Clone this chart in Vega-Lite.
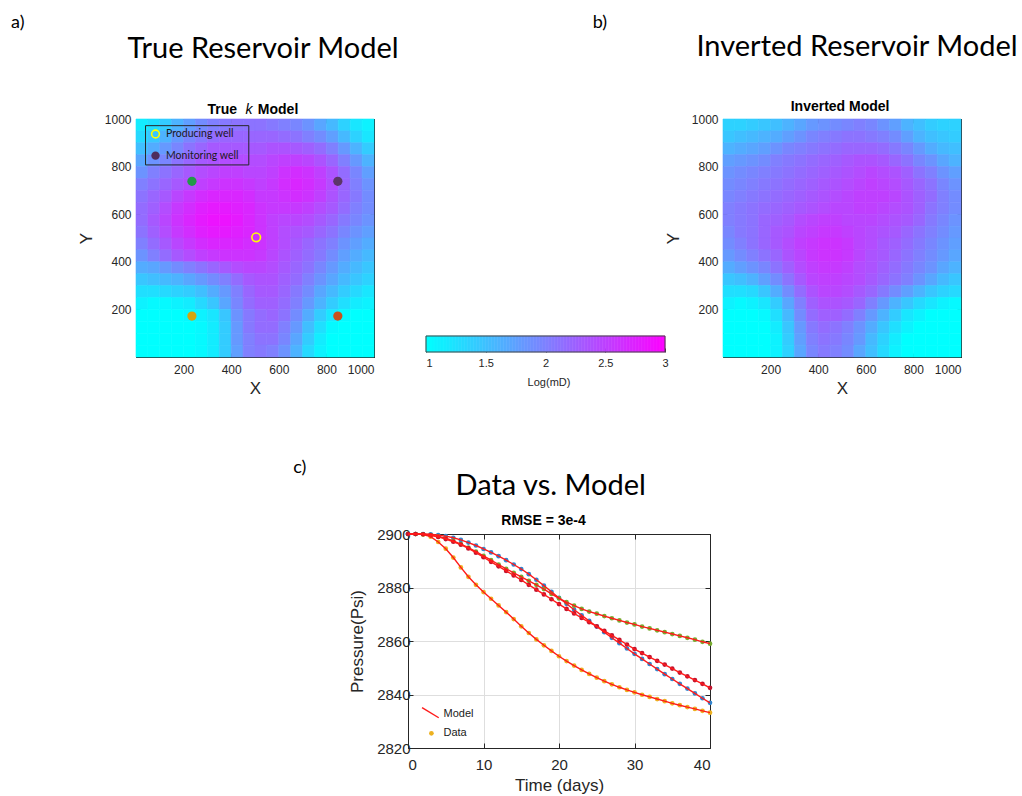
{
"$schema":"https://vega.github.io/schema/vega-lite/v6.json",
"background":"white",
"padding":{"left":10,"top":13,"right":0,"bottom":0},
"config":{"font":"Liberation Sans","view":{"stroke":"#262626","strokeWidth":1},
"axis":{"labelFont":"Liberation Sans","titleFont":"Liberation Sans","labelColor":"#262626","titleColor":"#262626","titleFontWeight":"normal","domainColor":"#262626","tickColor":"#262626","grid":false,"zindex":1,"tickSize":-4,"labelPadding":8,"format":"d"}},
"datasets":{
"truek":[
{"x":25,"y":975,"v":1.15},{"x":75,"y":975,"v":1.25},{"x":125,"y":975,"v":1.4},{"x":175,"y":975,"v":1.6},{"x":225,"y":975,"v":1.75},{"x":275,"y":975,"v":1.9},{"x":325,"y":975,"v":2.0},{"x":375,"y":975,"v":2.05},{"x":425,"y":975,"v":2.1},{"x":475,"y":975,"v":2.1},{"x":525,"y":975,"v":2.1},{"x":575,"y":975,"v":2.05},{"x":625,"y":975,"v":2.0},{"x":675,"y":975,"v":1.95},{"x":725,"y":975,"v":1.85},{"x":775,"y":975,"v":1.7},{"x":825,"y":975,"v":1.55},{"x":875,"y":975,"v":1.35},{"x":925,"y":975,"v":1.2},{"x":975,"y":975,"v":1.1},
{"x":25,"y":925,"v":1.3},{"x":75,"y":925,"v":1.45},{"x":125,"y":925,"v":1.6},{"x":175,"y":925,"v":1.8},{"x":225,"y":925,"v":1.95},{"x":275,"y":925,"v":2.05},{"x":325,"y":925,"v":2.15},{"x":375,"y":925,"v":2.2},{"x":425,"y":925,"v":2.2},{"x":475,"y":925,"v":2.2},{"x":525,"y":925,"v":2.2},{"x":575,"y":925,"v":2.2},{"x":625,"y":925,"v":2.15},{"x":675,"y":925,"v":2.1},{"x":725,"y":925,"v":2.0},{"x":775,"y":925,"v":1.9},{"x":825,"y":925,"v":1.75},{"x":875,"y":925,"v":1.55},{"x":925,"y":925,"v":1.35},{"x":975,"y":925,"v":1.2},
{"x":25,"y":875,"v":1.5},{"x":75,"y":875,"v":1.65},{"x":125,"y":875,"v":1.8},{"x":175,"y":875,"v":1.95},{"x":225,"y":875,"v":2.1},{"x":275,"y":875,"v":2.2},{"x":325,"y":875,"v":2.3},{"x":375,"y":875,"v":2.3},{"x":425,"y":875,"v":2.3},{"x":475,"y":875,"v":2.3},{"x":525,"y":875,"v":2.3},{"x":575,"y":875,"v":2.35},{"x":625,"y":875,"v":2.35},{"x":675,"y":875,"v":2.3},{"x":725,"y":875,"v":2.25},{"x":775,"y":875,"v":2.15},{"x":825,"y":875,"v":2.0},{"x":875,"y":875,"v":1.8},{"x":925,"y":875,"v":1.6},{"x":975,"y":875,"v":1.4},
{"x":25,"y":825,"v":1.7},{"x":75,"y":825,"v":1.85},{"x":125,"y":825,"v":1.95},{"x":175,"y":825,"v":2.1},{"x":225,"y":825,"v":2.2},{"x":275,"y":825,"v":2.3},{"x":325,"y":825,"v":2.35},{"x":375,"y":825,"v":2.4},{"x":425,"y":825,"v":2.4},{"x":475,"y":825,"v":2.4},{"x":525,"y":825,"v":2.4},{"x":575,"y":825,"v":2.45},{"x":625,"y":825,"v":2.5},{"x":675,"y":825,"v":2.5},{"x":725,"y":825,"v":2.45},{"x":775,"y":825,"v":2.35},{"x":825,"y":825,"v":2.2},{"x":875,"y":825,"v":2.0},{"x":925,"y":825,"v":1.8},{"x":975,"y":825,"v":1.6},
{"x":25,"y":775,"v":1.85},{"x":75,"y":775,"v":2.0},{"x":125,"y":775,"v":2.1},{"x":175,"y":775,"v":2.2},{"x":225,"y":775,"v":2.3},{"x":275,"y":775,"v":2.4},{"x":325,"y":775,"v":2.45},{"x":375,"y":775,"v":2.5},{"x":425,"y":775,"v":2.5},{"x":475,"y":775,"v":2.45},{"x":525,"y":775,"v":2.45},{"x":575,"y":775,"v":2.5},{"x":625,"y":775,"v":2.6},{"x":675,"y":775,"v":2.65},{"x":725,"y":775,"v":2.6},{"x":775,"y":775,"v":2.5},{"x":825,"y":775,"v":2.35},{"x":875,"y":775,"v":2.15},{"x":925,"y":775,"v":1.95},{"x":975,"y":775,"v":1.75},
{"x":25,"y":725,"v":2.0},{"x":75,"y":725,"v":2.1},{"x":125,"y":725,"v":2.2},{"x":175,"y":725,"v":2.3},{"x":225,"y":725,"v":2.4},{"x":275,"y":725,"v":2.5},{"x":325,"y":725,"v":2.55},{"x":375,"y":725,"v":2.6},{"x":425,"y":725,"v":2.6},{"x":475,"y":725,"v":2.55},{"x":525,"y":725,"v":2.5},{"x":575,"y":725,"v":2.55},{"x":625,"y":725,"v":2.65},{"x":675,"y":725,"v":2.7},{"x":725,"y":725,"v":2.65},{"x":775,"y":725,"v":2.55},{"x":825,"y":725,"v":2.4},{"x":875,"y":725,"v":2.2},{"x":925,"y":725,"v":2.0},{"x":975,"y":725,"v":1.85},
{"x":25,"y":675,"v":2.1},{"x":75,"y":675,"v":2.2},{"x":125,"y":675,"v":2.3},{"x":175,"y":675,"v":2.45},{"x":225,"y":675,"v":2.55},{"x":275,"y":675,"v":2.65},{"x":325,"y":675,"v":2.7},{"x":375,"y":675,"v":2.7},{"x":425,"y":675,"v":2.7},{"x":475,"y":675,"v":2.65},{"x":525,"y":675,"v":2.55},{"x":575,"y":675,"v":2.55},{"x":625,"y":675,"v":2.6},{"x":675,"y":675,"v":2.65},{"x":725,"y":675,"v":2.6},{"x":775,"y":675,"v":2.5},{"x":825,"y":675,"v":2.35},{"x":875,"y":675,"v":2.2},{"x":925,"y":675,"v":2.05},{"x":975,"y":675,"v":1.9},
{"x":25,"y":625,"v":2.15},{"x":75,"y":625,"v":2.25},{"x":125,"y":625,"v":2.4},{"x":175,"y":625,"v":2.55},{"x":225,"y":625,"v":2.65},{"x":275,"y":625,"v":2.75},{"x":325,"y":625,"v":2.8},{"x":375,"y":625,"v":2.8},{"x":425,"y":625,"v":2.75},{"x":475,"y":625,"v":2.7},{"x":525,"y":625,"v":2.6},{"x":575,"y":625,"v":2.55},{"x":625,"y":625,"v":2.55},{"x":675,"y":625,"v":2.55},{"x":725,"y":625,"v":2.5},{"x":775,"y":625,"v":2.4},{"x":825,"y":625,"v":2.3},{"x":875,"y":625,"v":2.15},{"x":925,"y":625,"v":2.0},{"x":975,"y":625,"v":1.9},
{"x":25,"y":575,"v":2.15},{"x":75,"y":575,"v":2.3},{"x":125,"y":575,"v":2.45},{"x":175,"y":575,"v":2.6},{"x":225,"y":575,"v":2.7},{"x":275,"y":575,"v":2.8},{"x":325,"y":575,"v":2.85},{"x":375,"y":575,"v":2.85},{"x":425,"y":575,"v":2.8},{"x":475,"y":575,"v":2.7},{"x":525,"y":575,"v":2.6},{"x":575,"y":575,"v":2.5},{"x":625,"y":575,"v":2.45},{"x":675,"y":575,"v":2.45},{"x":725,"y":575,"v":2.4},{"x":775,"y":575,"v":2.3},{"x":825,"y":575,"v":2.2},{"x":875,"y":575,"v":2.05},{"x":925,"y":575,"v":1.95},{"x":975,"y":575,"v":1.85},
{"x":25,"y":525,"v":2.1},{"x":75,"y":525,"v":2.25},{"x":125,"y":525,"v":2.4},{"x":175,"y":525,"v":2.55},{"x":225,"y":525,"v":2.65},{"x":275,"y":525,"v":2.75},{"x":325,"y":525,"v":2.8},{"x":375,"y":525,"v":2.8},{"x":425,"y":525,"v":2.75},{"x":475,"y":525,"v":2.7},{"x":525,"y":525,"v":2.6},{"x":575,"y":525,"v":2.5},{"x":625,"y":525,"v":2.4},{"x":675,"y":525,"v":2.35},{"x":725,"y":525,"v":2.3},{"x":775,"y":525,"v":2.2},{"x":825,"y":525,"v":2.1},{"x":875,"y":525,"v":1.95},{"x":925,"y":525,"v":1.85},{"x":975,"y":525,"v":1.75},
{"x":25,"y":475,"v":2.0},{"x":75,"y":475,"v":2.15},{"x":125,"y":475,"v":2.3},{"x":175,"y":475,"v":2.45},{"x":225,"y":475,"v":2.55},{"x":275,"y":475,"v":2.65},{"x":325,"y":475,"v":2.7},{"x":375,"y":475,"v":2.7},{"x":425,"y":475,"v":2.7},{"x":475,"y":475,"v":2.65},{"x":525,"y":475,"v":2.6},{"x":575,"y":475,"v":2.5},{"x":625,"y":475,"v":2.4},{"x":675,"y":475,"v":2.3},{"x":725,"y":475,"v":2.2},{"x":775,"y":475,"v":2.1},{"x":825,"y":475,"v":2.0},{"x":875,"y":475,"v":1.85},{"x":925,"y":475,"v":1.75},{"x":975,"y":475,"v":1.65},
{"x":25,"y":425,"v":1.85},{"x":75,"y":425,"v":2.0},{"x":125,"y":425,"v":2.15},{"x":175,"y":425,"v":2.3},{"x":225,"y":425,"v":2.4},{"x":275,"y":425,"v":2.5},{"x":325,"y":425,"v":2.55},{"x":375,"y":425,"v":2.6},{"x":425,"y":425,"v":2.6},{"x":475,"y":425,"v":2.6},{"x":525,"y":425,"v":2.55},{"x":575,"y":425,"v":2.45},{"x":625,"y":425,"v":2.35},{"x":675,"y":425,"v":2.25},{"x":725,"y":425,"v":2.15},{"x":775,"y":425,"v":2.05},{"x":825,"y":425,"v":1.9},{"x":875,"y":425,"v":1.75},{"x":925,"y":425,"v":1.65},{"x":975,"y":425,"v":1.55},
{"x":25,"y":375,"v":1.65},{"x":75,"y":375,"v":1.7},{"x":125,"y":375,"v":1.8},{"x":175,"y":375,"v":1.9},{"x":225,"y":375,"v":2.0},{"x":275,"y":375,"v":2.1},{"x":325,"y":375,"v":2.2},{"x":375,"y":375,"v":2.3},{"x":425,"y":375,"v":2.4},{"x":475,"y":375,"v":2.45},{"x":525,"y":375,"v":2.45},{"x":575,"y":375,"v":2.4},{"x":625,"y":375,"v":2.3},{"x":675,"y":375,"v":2.2},{"x":725,"y":375,"v":2.1},{"x":775,"y":375,"v":1.95},{"x":825,"y":375,"v":1.8},{"x":875,"y":375,"v":1.65},{"x":925,"y":375,"v":1.55},{"x":975,"y":375,"v":1.45},
{"x":25,"y":325,"v":1.45},{"x":75,"y":325,"v":1.5},{"x":125,"y":325,"v":1.55},{"x":175,"y":325,"v":1.6},{"x":225,"y":325,"v":1.7},{"x":275,"y":325,"v":1.8},{"x":325,"y":325,"v":1.9},{"x":375,"y":325,"v":2.0},{"x":425,"y":325,"v":2.15},{"x":475,"y":325,"v":2.3},{"x":525,"y":325,"v":2.35},{"x":575,"y":325,"v":2.35},{"x":625,"y":325,"v":2.25},{"x":675,"y":325,"v":2.15},{"x":725,"y":325,"v":2.0},{"x":775,"y":325,"v":1.85},{"x":825,"y":325,"v":1.7},{"x":875,"y":325,"v":1.55},{"x":925,"y":325,"v":1.45},{"x":975,"y":325,"v":1.35},
{"x":25,"y":275,"v":1.25},{"x":75,"y":275,"v":1.25},{"x":125,"y":275,"v":1.3},{"x":175,"y":275,"v":1.35},{"x":225,"y":275,"v":1.4},{"x":275,"y":275,"v":1.5},{"x":325,"y":275,"v":1.65},{"x":375,"y":275,"v":1.8},{"x":425,"y":275,"v":2.0},{"x":475,"y":275,"v":2.2},{"x":525,"y":275,"v":2.3},{"x":575,"y":275,"v":2.3},{"x":625,"y":275,"v":2.2},{"x":675,"y":275,"v":2.05},{"x":725,"y":275,"v":1.9},{"x":775,"y":275,"v":1.7},{"x":825,"y":275,"v":1.55},{"x":875,"y":275,"v":1.4},{"x":925,"y":275,"v":1.3},{"x":975,"y":275,"v":1.2},
{"x":25,"y":225,"v":1.1},{"x":75,"y":225,"v":1.05},{"x":125,"y":225,"v":1.05},{"x":175,"y":225,"v":1.1},{"x":225,"y":225,"v":1.15},{"x":275,"y":225,"v":1.3},{"x":325,"y":225,"v":1.45},{"x":375,"y":225,"v":1.7},{"x":425,"y":225,"v":1.95},{"x":475,"y":225,"v":2.15},{"x":525,"y":225,"v":2.25},{"x":575,"y":225,"v":2.25},{"x":625,"y":225,"v":2.15},{"x":675,"y":225,"v":2.0},{"x":725,"y":225,"v":1.8},{"x":775,"y":225,"v":1.6},{"x":825,"y":225,"v":1.4},{"x":875,"y":225,"v":1.25},{"x":925,"y":225,"v":1.15},{"x":975,"y":225,"v":1.1},
{"x":25,"y":175,"v":1.0},{"x":75,"y":175,"v":1.0},{"x":125,"y":175,"v":1.0},{"x":175,"y":175,"v":1.0},{"x":225,"y":175,"v":1.05},{"x":275,"y":175,"v":1.1},{"x":325,"y":175,"v":1.2},{"x":375,"y":175,"v":1.45},{"x":425,"y":175,"v":1.85},{"x":475,"y":175,"v":2.05},{"x":525,"y":175,"v":2.15},{"x":575,"y":175,"v":2.2},{"x":625,"y":175,"v":2.1},{"x":675,"y":175,"v":1.9},{"x":725,"y":175,"v":1.65},{"x":775,"y":175,"v":1.4},{"x":825,"y":175,"v":1.2},{"x":875,"y":175,"v":1.05},{"x":925,"y":175,"v":1.0},{"x":975,"y":175,"v":1.0},
{"x":25,"y":125,"v":1.0},{"x":75,"y":125,"v":1.0},{"x":125,"y":125,"v":1.0},{"x":175,"y":125,"v":1.0},{"x":225,"y":125,"v":1.0},{"x":275,"y":125,"v":1.05},{"x":325,"y":125,"v":1.15},{"x":375,"y":125,"v":1.4},{"x":425,"y":125,"v":1.8},{"x":475,"y":125,"v":2.05},{"x":525,"y":125,"v":2.15},{"x":575,"y":125,"v":2.15},{"x":625,"y":125,"v":2.0},{"x":675,"y":125,"v":1.8},{"x":725,"y":125,"v":1.5},{"x":775,"y":125,"v":1.25},{"x":825,"y":125,"v":1.05},{"x":875,"y":125,"v":1.0},{"x":925,"y":125,"v":1.0},{"x":975,"y":125,"v":1.0},
{"x":25,"y":75,"v":1.0},{"x":75,"y":75,"v":1.0},{"x":125,"y":75,"v":1.0},{"x":175,"y":75,"v":1.0},{"x":225,"y":75,"v":1.0},{"x":275,"y":75,"v":1.05},{"x":325,"y":75,"v":1.15},{"x":375,"y":75,"v":1.4},{"x":425,"y":75,"v":1.8},{"x":475,"y":75,"v":2.0},{"x":525,"y":75,"v":2.1},{"x":575,"y":75,"v":2.1},{"x":625,"y":75,"v":1.95},{"x":675,"y":75,"v":1.7},{"x":725,"y":75,"v":1.4},{"x":775,"y":75,"v":1.15},{"x":825,"y":75,"v":1.0},{"x":875,"y":75,"v":1.0},{"x":925,"y":75,"v":1.0},{"x":975,"y":75,"v":1.0},
{"x":25,"y":25,"v":1.0},{"x":75,"y":25,"v":1.0},{"x":125,"y":25,"v":1.0},{"x":175,"y":25,"v":1.0},{"x":225,"y":25,"v":1.0},{"x":275,"y":25,"v":1.05},{"x":325,"y":25,"v":1.15},{"x":375,"y":25,"v":1.4},{"x":425,"y":25,"v":1.75},{"x":475,"y":25,"v":2.0},{"x":525,"y":25,"v":2.05},{"x":575,"y":25,"v":2.0},{"x":625,"y":25,"v":1.85},{"x":675,"y":25,"v":1.6},{"x":725,"y":25,"v":1.3},{"x":775,"y":25,"v":1.1},{"x":825,"y":25,"v":1.0},{"x":875,"y":25,"v":1.0},{"x":925,"y":25,"v":1.0},{"x":975,"y":25,"v":1.0}
],
"inv":[
{"x":25,"y":975,"v":1.35},{"x":75,"y":975,"v":1.35},{"x":125,"y":975,"v":1.4},{"x":175,"y":975,"v":1.45},{"x":225,"y":975,"v":1.5},{"x":275,"y":975,"v":1.6},{"x":325,"y":975,"v":1.7},{"x":375,"y":975,"v":1.8},{"x":425,"y":975,"v":1.85},{"x":475,"y":975,"v":1.9},{"x":525,"y":975,"v":1.95},{"x":575,"y":975,"v":2.0},{"x":625,"y":975,"v":1.95},{"x":675,"y":975,"v":1.85},{"x":725,"y":975,"v":1.75},{"x":775,"y":975,"v":1.6},{"x":825,"y":975,"v":1.5},{"x":875,"y":975,"v":1.4},{"x":925,"y":975,"v":1.35},{"x":975,"y":975,"v":1.35},
{"x":25,"y":925,"v":1.45},{"x":75,"y":925,"v":1.5},{"x":125,"y":925,"v":1.55},{"x":175,"y":925,"v":1.6},{"x":225,"y":925,"v":1.65},{"x":275,"y":925,"v":1.75},{"x":325,"y":925,"v":1.85},{"x":375,"y":925,"v":1.95},{"x":425,"y":925,"v":2.0},{"x":475,"y":925,"v":2.05},{"x":525,"y":925,"v":2.1},{"x":575,"y":925,"v":2.1},{"x":625,"y":925,"v":2.05},{"x":675,"y":925,"v":2.0},{"x":725,"y":925,"v":1.9},{"x":775,"y":925,"v":1.75},{"x":825,"y":925,"v":1.6},{"x":875,"y":925,"v":1.5},{"x":925,"y":925,"v":1.45},{"x":975,"y":925,"v":1.4},
{"x":25,"y":875,"v":1.6},{"x":75,"y":875,"v":1.65},{"x":125,"y":875,"v":1.7},{"x":175,"y":875,"v":1.75},{"x":225,"y":875,"v":1.85},{"x":275,"y":875,"v":1.95},{"x":325,"y":875,"v":2.0},{"x":375,"y":875,"v":2.05},{"x":425,"y":875,"v":2.1},{"x":475,"y":875,"v":2.15},{"x":525,"y":875,"v":2.2},{"x":575,"y":875,"v":2.2},{"x":625,"y":875,"v":2.2},{"x":675,"y":875,"v":2.15},{"x":725,"y":875,"v":2.05},{"x":775,"y":875,"v":1.95},{"x":825,"y":875,"v":1.8},{"x":875,"y":875,"v":1.65},{"x":925,"y":875,"v":1.55},{"x":975,"y":875,"v":1.5},
{"x":25,"y":825,"v":1.75},{"x":75,"y":825,"v":1.8},{"x":125,"y":825,"v":1.85},{"x":175,"y":825,"v":1.9},{"x":225,"y":825,"v":2.0},{"x":275,"y":825,"v":2.05},{"x":325,"y":825,"v":2.1},{"x":375,"y":825,"v":2.15},{"x":425,"y":825,"v":2.2},{"x":475,"y":825,"v":2.25},{"x":525,"y":825,"v":2.3},{"x":575,"y":825,"v":2.35},{"x":625,"y":825,"v":2.35},{"x":675,"y":825,"v":2.3},{"x":725,"y":825,"v":2.2},{"x":775,"y":825,"v":2.1},{"x":825,"y":825,"v":1.95},{"x":875,"y":825,"v":1.85},{"x":925,"y":825,"v":1.7},{"x":975,"y":825,"v":1.6},
{"x":25,"y":775,"v":1.85},{"x":75,"y":775,"v":1.9},{"x":125,"y":775,"v":1.95},{"x":175,"y":775,"v":2.0},{"x":225,"y":775,"v":2.05},{"x":275,"y":775,"v":2.1},{"x":325,"y":775,"v":2.15},{"x":375,"y":775,"v":2.2},{"x":425,"y":775,"v":2.25},{"x":475,"y":775,"v":2.3},{"x":525,"y":775,"v":2.35},{"x":575,"y":775,"v":2.4},{"x":625,"y":775,"v":2.45},{"x":675,"y":775,"v":2.4},{"x":725,"y":775,"v":2.35},{"x":775,"y":775,"v":2.25},{"x":825,"y":775,"v":2.1},{"x":875,"y":775,"v":2.0},{"x":925,"y":775,"v":1.85},{"x":975,"y":775,"v":1.75},
{"x":25,"y":725,"v":1.9},{"x":75,"y":725,"v":1.95},{"x":125,"y":725,"v":2.0},{"x":175,"y":725,"v":2.05},{"x":225,"y":725,"v":2.1},{"x":275,"y":725,"v":2.15},{"x":325,"y":725,"v":2.2},{"x":375,"y":725,"v":2.25},{"x":425,"y":725,"v":2.3},{"x":475,"y":725,"v":2.35},{"x":525,"y":725,"v":2.4},{"x":575,"y":725,"v":2.45},{"x":625,"y":725,"v":2.5},{"x":675,"y":725,"v":2.45},{"x":725,"y":725,"v":2.4},{"x":775,"y":725,"v":2.3},{"x":825,"y":725,"v":2.2},{"x":875,"y":725,"v":2.1},{"x":925,"y":725,"v":1.95},{"x":975,"y":725,"v":1.85},
{"x":25,"y":675,"v":1.95},{"x":75,"y":675,"v":2.0},{"x":125,"y":675,"v":2.05},{"x":175,"y":675,"v":2.1},{"x":225,"y":675,"v":2.15},{"x":275,"y":675,"v":2.2},{"x":325,"y":675,"v":2.25},{"x":375,"y":675,"v":2.3},{"x":425,"y":675,"v":2.35},{"x":475,"y":675,"v":2.4},{"x":525,"y":675,"v":2.45},{"x":575,"y":675,"v":2.5},{"x":625,"y":675,"v":2.5},{"x":675,"y":675,"v":2.5},{"x":725,"y":675,"v":2.45},{"x":775,"y":675,"v":2.35},{"x":825,"y":675,"v":2.25},{"x":875,"y":675,"v":2.15},{"x":925,"y":675,"v":2.0},{"x":975,"y":675,"v":1.9},
{"x":25,"y":625,"v":2.0},{"x":75,"y":625,"v":2.05},{"x":125,"y":625,"v":2.1},{"x":175,"y":625,"v":2.15},{"x":225,"y":625,"v":2.2},{"x":275,"y":625,"v":2.25},{"x":325,"y":625,"v":2.3},{"x":375,"y":625,"v":2.35},{"x":425,"y":625,"v":2.4},{"x":475,"y":625,"v":2.45},{"x":525,"y":625,"v":2.45},{"x":575,"y":625,"v":2.5},{"x":625,"y":625,"v":2.5},{"x":675,"y":625,"v":2.45},{"x":725,"y":625,"v":2.4},{"x":775,"y":625,"v":2.35},{"x":825,"y":625,"v":2.25},{"x":875,"y":625,"v":2.1},{"x":925,"y":625,"v":2.0},{"x":975,"y":625,"v":1.9},
{"x":25,"y":575,"v":2.0},{"x":75,"y":575,"v":2.05},{"x":125,"y":575,"v":2.1},{"x":175,"y":575,"v":2.2},{"x":225,"y":575,"v":2.25},{"x":275,"y":575,"v":2.3},{"x":325,"y":575,"v":2.4},{"x":375,"y":575,"v":2.45},{"x":425,"y":575,"v":2.5},{"x":475,"y":575,"v":2.5},{"x":525,"y":575,"v":2.45},{"x":575,"y":575,"v":2.45},{"x":625,"y":575,"v":2.45},{"x":675,"y":575,"v":2.4},{"x":725,"y":575,"v":2.35},{"x":775,"y":575,"v":2.3},{"x":825,"y":575,"v":2.2},{"x":875,"y":575,"v":2.05},{"x":925,"y":575,"v":1.95},{"x":975,"y":575,"v":1.85},
{"x":25,"y":525,"v":1.95},{"x":75,"y":525,"v":2.05},{"x":125,"y":525,"v":2.1},{"x":175,"y":525,"v":2.2},{"x":225,"y":525,"v":2.3},{"x":275,"y":525,"v":2.35},{"x":325,"y":525,"v":2.45},{"x":375,"y":525,"v":2.5},{"x":425,"y":525,"v":2.55},{"x":475,"y":525,"v":2.55},{"x":525,"y":525,"v":2.5},{"x":575,"y":525,"v":2.45},{"x":625,"y":525,"v":2.4},{"x":675,"y":525,"v":2.35},{"x":725,"y":525,"v":2.3},{"x":775,"y":525,"v":2.2},{"x":825,"y":525,"v":2.1},{"x":875,"y":525,"v":2.0},{"x":925,"y":525,"v":1.9},{"x":975,"y":525,"v":1.8},
{"x":25,"y":475,"v":1.9},{"x":75,"y":475,"v":2.0},{"x":125,"y":475,"v":2.1},{"x":175,"y":475,"v":2.2},{"x":225,"y":475,"v":2.3},{"x":275,"y":475,"v":2.4},{"x":325,"y":475,"v":2.5},{"x":375,"y":475,"v":2.55},{"x":425,"y":475,"v":2.6},{"x":475,"y":475,"v":2.6},{"x":525,"y":475,"v":2.55},{"x":575,"y":475,"v":2.45},{"x":625,"y":475,"v":2.4},{"x":675,"y":475,"v":2.3},{"x":725,"y":475,"v":2.25},{"x":775,"y":475,"v":2.15},{"x":825,"y":475,"v":2.05},{"x":875,"y":475,"v":1.95},{"x":925,"y":475,"v":1.85},{"x":975,"y":475,"v":1.75},
{"x":25,"y":425,"v":1.8},{"x":75,"y":425,"v":1.9},{"x":125,"y":425,"v":2.0},{"x":175,"y":425,"v":2.1},{"x":225,"y":425,"v":2.2},{"x":275,"y":425,"v":2.35},{"x":325,"y":425,"v":2.45},{"x":375,"y":425,"v":2.55},{"x":425,"y":425,"v":2.6},{"x":475,"y":425,"v":2.6},{"x":525,"y":425,"v":2.55},{"x":575,"y":425,"v":2.45},{"x":625,"y":425,"v":2.35},{"x":675,"y":425,"v":2.3},{"x":725,"y":425,"v":2.2},{"x":775,"y":425,"v":2.1},{"x":825,"y":425,"v":2.0},{"x":875,"y":425,"v":1.9},{"x":925,"y":425,"v":1.8},{"x":975,"y":425,"v":1.7},
{"x":25,"y":375,"v":1.65},{"x":75,"y":375,"v":1.75},{"x":125,"y":375,"v":1.85},{"x":175,"y":375,"v":1.95},{"x":225,"y":375,"v":2.1},{"x":275,"y":375,"v":2.25},{"x":325,"y":375,"v":2.4},{"x":375,"y":375,"v":2.5},{"x":425,"y":375,"v":2.55},{"x":475,"y":375,"v":2.55},{"x":525,"y":375,"v":2.5},{"x":575,"y":375,"v":2.4},{"x":625,"y":375,"v":2.35},{"x":675,"y":375,"v":2.25},{"x":725,"y":375,"v":2.15},{"x":775,"y":375,"v":2.05},{"x":825,"y":375,"v":1.95},{"x":875,"y":375,"v":1.85},{"x":925,"y":375,"v":1.7},{"x":975,"y":375,"v":1.6},
{"x":25,"y":325,"v":1.45},{"x":75,"y":325,"v":1.5},{"x":125,"y":325,"v":1.6},{"x":175,"y":325,"v":1.75},{"x":225,"y":325,"v":1.9},{"x":275,"y":325,"v":2.1},{"x":325,"y":325,"v":2.3},{"x":375,"y":325,"v":2.45},{"x":425,"y":325,"v":2.5},{"x":475,"y":325,"v":2.5},{"x":525,"y":325,"v":2.45},{"x":575,"y":325,"v":2.4},{"x":625,"y":325,"v":2.3},{"x":675,"y":325,"v":2.2},{"x":725,"y":325,"v":2.1},{"x":775,"y":325,"v":2.0},{"x":825,"y":325,"v":1.85},{"x":875,"y":325,"v":1.7},{"x":925,"y":325,"v":1.55},{"x":975,"y":325,"v":1.45},
{"x":25,"y":275,"v":1.25},{"x":75,"y":275,"v":1.25},{"x":125,"y":275,"v":1.3},{"x":175,"y":275,"v":1.45},{"x":225,"y":275,"v":1.65},{"x":275,"y":275,"v":1.9},{"x":325,"y":275,"v":2.15},{"x":375,"y":275,"v":2.35},{"x":425,"y":275,"v":2.45},{"x":475,"y":275,"v":2.45},{"x":525,"y":275,"v":2.4},{"x":575,"y":275,"v":2.3},{"x":625,"y":275,"v":2.2},{"x":675,"y":275,"v":2.05},{"x":725,"y":275,"v":1.9},{"x":775,"y":275,"v":1.75},{"x":825,"y":275,"v":1.6},{"x":875,"y":275,"v":1.45},{"x":925,"y":275,"v":1.35},{"x":975,"y":275,"v":1.3},
{"x":25,"y":225,"v":1.1},{"x":75,"y":225,"v":1.05},{"x":125,"y":225,"v":1.1},{"x":175,"y":225,"v":1.2},{"x":225,"y":225,"v":1.4},{"x":275,"y":225,"v":1.7},{"x":325,"y":225,"v":2.0},{"x":375,"y":225,"v":2.25},{"x":425,"y":225,"v":2.35},{"x":475,"y":225,"v":2.35},{"x":525,"y":225,"v":2.3},{"x":575,"y":225,"v":2.2},{"x":625,"y":225,"v":2.0},{"x":675,"y":225,"v":1.8},{"x":725,"y":225,"v":1.6},{"x":775,"y":225,"v":1.45},{"x":825,"y":225,"v":1.3},{"x":875,"y":225,"v":1.2},{"x":925,"y":225,"v":1.1},{"x":975,"y":225,"v":1.05},
{"x":25,"y":175,"v":1.0},{"x":75,"y":175,"v":1.0},{"x":125,"y":175,"v":1.0},{"x":175,"y":175,"v":1.05},{"x":225,"y":175,"v":1.25},{"x":275,"y":175,"v":1.55},{"x":325,"y":175,"v":1.9},{"x":375,"y":175,"v":2.15},{"x":425,"y":175,"v":2.25},{"x":475,"y":175,"v":2.25},{"x":525,"y":175,"v":2.15},{"x":575,"y":175,"v":2.0},{"x":625,"y":175,"v":1.8},{"x":675,"y":175,"v":1.6},{"x":725,"y":175,"v":1.4},{"x":775,"y":175,"v":1.2},{"x":825,"y":175,"v":1.1},{"x":875,"y":175,"v":1.0},{"x":925,"y":175,"v":1.0},{"x":975,"y":175,"v":1.0},
{"x":25,"y":125,"v":1.0},{"x":75,"y":125,"v":1.0},{"x":125,"y":125,"v":1.0},{"x":175,"y":125,"v":1.0},{"x":225,"y":125,"v":1.15},{"x":275,"y":125,"v":1.45},{"x":325,"y":125,"v":1.8},{"x":375,"y":125,"v":2.05},{"x":425,"y":125,"v":2.15},{"x":475,"y":125,"v":2.1},{"x":525,"y":125,"v":2.0},{"x":575,"y":125,"v":1.85},{"x":625,"y":125,"v":1.65},{"x":675,"y":125,"v":1.45},{"x":725,"y":125,"v":1.25},{"x":775,"y":125,"v":1.1},{"x":825,"y":125,"v":1.0},{"x":875,"y":125,"v":1.0},{"x":925,"y":125,"v":1.0},{"x":975,"y":125,"v":1.0},
{"x":25,"y":75,"v":1.0},{"x":75,"y":75,"v":1.0},{"x":125,"y":75,"v":1.0},{"x":175,"y":75,"v":1.0},{"x":225,"y":75,"v":1.1},{"x":275,"y":75,"v":1.4},{"x":325,"y":75,"v":1.75},{"x":375,"y":75,"v":2.0},{"x":425,"y":75,"v":2.1},{"x":475,"y":75,"v":2.05},{"x":525,"y":75,"v":1.95},{"x":575,"y":75,"v":1.8},{"x":625,"y":75,"v":1.55},{"x":675,"y":75,"v":1.35},{"x":725,"y":75,"v":1.15},{"x":775,"y":75,"v":1.0},{"x":825,"y":75,"v":1.0},{"x":875,"y":75,"v":1.0},{"x":925,"y":75,"v":1.0},{"x":975,"y":75,"v":1.0},
{"x":25,"y":25,"v":1.0},{"x":75,"y":25,"v":1.0},{"x":125,"y":25,"v":1.0},{"x":175,"y":25,"v":1.0},{"x":225,"y":25,"v":1.1},{"x":275,"y":25,"v":1.35},{"x":325,"y":25,"v":1.7},{"x":375,"y":25,"v":1.95},{"x":425,"y":25,"v":2.05},{"x":475,"y":25,"v":2.0},{"x":525,"y":25,"v":1.9},{"x":575,"y":25,"v":1.7},{"x":625,"y":25,"v":1.5},{"x":675,"y":25,"v":1.3},{"x":725,"y":25,"v":1.1},{"x":775,"y":25,"v":1.0},{"x":825,"y":25,"v":1.0},{"x":875,"y":25,"v":1.0},{"x":925,"y":25,"v":1.0},{"x":975,"y":25,"v":1.0}
],
"cbar":[{"v":1.0},{"v":1.025},{"v":1.05},{"v":1.075},{"v":1.1},{"v":1.125},{"v":1.15},{"v":1.175},{"v":1.2},{"v":1.225},{"v":1.25},{"v":1.275},{"v":1.3},{"v":1.325},{"v":1.35},{"v":1.375},{"v":1.4},{"v":1.425},{"v":1.45},{"v":1.475},{"v":1.5},{"v":1.525},{"v":1.55},{"v":1.575},{"v":1.6},{"v":1.625},{"v":1.65},{"v":1.675},{"v":1.7},{"v":1.725},{"v":1.75},{"v":1.775},{"v":1.8},{"v":1.825},{"v":1.85},{"v":1.875},{"v":1.9},{"v":1.925},{"v":1.95},{"v":1.975},{"v":2.0},{"v":2.025},{"v":2.05},{"v":2.075},{"v":2.1},{"v":2.125},{"v":2.15},{"v":2.175},{"v":2.2},{"v":2.225},{"v":2.25},{"v":2.275},{"v":2.3},{"v":2.325},{"v":2.35},{"v":2.375},{"v":2.4},{"v":2.425},{"v":2.45},{"v":2.475},{"v":2.5},{"v":2.525},{"v":2.55},{"v":2.575},{"v":2.6},{"v":2.625},{"v":2.65},{"v":2.675},{"v":2.7},{"v":2.725},{"v":2.75},{"v":2.775},{"v":2.8},{"v":2.825},{"v":2.85},{"v":2.875},{"v":2.9},{"v":2.925},{"v":2.95},{"v":2.975}],
"wells":[{"well":"W1","x":235,"y":738},{"well":"W2","x":848,"y":738},{"well":"W3","x":235,"y":172},{"well":"W4","x":848,"y":172}],
"press":[
{"s":"W1","t":0,"p":2900},{"s":"W1","t":1,"p":2900},{"s":"W1","t":2,"p":2899.8},{"s":"W1","t":3,"p":2899},{"s":"W1","t":4,"p":2897},{"s":"W1","t":5,"p":2894.5},{"s":"W1","t":6,"p":2891.2},{"s":"W1","t":7,"p":2887.5},{"s":"W1","t":8,"p":2884},{"s":"W1","t":9,"p":2881},{"s":"W1","t":10,"p":2878.3},{"s":"W1","t":11,"p":2875.8},{"s":"W1","t":12,"p":2873.3},{"s":"W1","t":13,"p":2870.8},{"s":"W1","t":14,"p":2868.2},{"s":"W1","t":15,"p":2865.5},{"s":"W1","t":16,"p":2863},{"s":"W1","t":17,"p":2860.6},{"s":"W1","t":18,"p":2858.4},{"s":"W1","t":19,"p":2856.3},{"s":"W1","t":20,"p":2854.3},{"s":"W1","t":21,"p":2852.5},{"s":"W1","t":22,"p":2850.8},{"s":"W1","t":23,"p":2849.2},{"s":"W1","t":24,"p":2847.7},{"s":"W1","t":25,"p":2846.3},{"s":"W1","t":26,"p":2845},{"s":"W1","t":27,"p":2843.8},{"s":"W1","t":28,"p":2842.7},{"s":"W1","t":29,"p":2841.7},{"s":"W1","t":30,"p":2840.8},{"s":"W1","t":31,"p":2839.9},{"s":"W1","t":32,"p":2839.1},{"s":"W1","t":33,"p":2838.3},{"s":"W1","t":34,"p":2837.5},{"s":"W1","t":35,"p":2836.7},{"s":"W1","t":36,"p":2836},{"s":"W1","t":37,"p":2835.3},{"s":"W1","t":38,"p":2834.6},{"s":"W1","t":39,"p":2833.9},{"s":"W1","t":40,"p":2833.2},
{"s":"W2","t":0,"p":2900},{"s":"W2","t":1,"p":2900},{"s":"W2","t":2,"p":2900},{"s":"W2","t":3,"p":2899.9},{"s":"W2","t":4,"p":2899.6},{"s":"W2","t":5,"p":2899.2},{"s":"W2","t":6,"p":2898.6},{"s":"W2","t":7,"p":2897.8},{"s":"W2","t":8,"p":2896.8},{"s":"W2","t":9,"p":2895.7},{"s":"W2","t":10,"p":2894.4},{"s":"W2","t":11,"p":2893.1},{"s":"W2","t":12,"p":2891.7},{"s":"W2","t":13,"p":2890.2},{"s":"W2","t":14,"p":2888.6},{"s":"W2","t":15,"p":2886.9},{"s":"W2","t":16,"p":2885},{"s":"W2","t":17,"p":2882.9},{"s":"W2","t":18,"p":2880.7},{"s":"W2","t":19,"p":2878.4},{"s":"W2","t":20,"p":2876.1},{"s":"W2","t":21,"p":2873.9},{"s":"W2","t":22,"p":2871.7},{"s":"W2","t":23,"p":2869.6},{"s":"W2","t":24,"p":2867.5},{"s":"W2","t":25,"p":2865.4},{"s":"W2","t":26,"p":2863.3},{"s":"W2","t":27,"p":2861.2},{"s":"W2","t":28,"p":2859.2},{"s":"W2","t":29,"p":2857.2},{"s":"W2","t":30,"p":2855.2},{"s":"W2","t":31,"p":2853.3},{"s":"W2","t":32,"p":2851.4},{"s":"W2","t":33,"p":2849.5},{"s":"W2","t":34,"p":2847.6},{"s":"W2","t":35,"p":2845.8},{"s":"W2","t":36,"p":2844},{"s":"W2","t":37,"p":2842.2},{"s":"W2","t":38,"p":2840.4},{"s":"W2","t":39,"p":2838.6},{"s":"W2","t":40,"p":2836.9},
{"s":"W3","t":0,"p":2900},{"s":"W3","t":1,"p":2900},{"s":"W3","t":2,"p":2899.9},{"s":"W3","t":3,"p":2899.6},{"s":"W3","t":4,"p":2899.1},{"s":"W3","t":5,"p":2898.4},{"s":"W3","t":6,"p":2897.4},{"s":"W3","t":7,"p":2896.2},{"s":"W3","t":8,"p":2894.9},{"s":"W3","t":9,"p":2893.4},{"s":"W3","t":10,"p":2891.8},{"s":"W3","t":11,"p":2890.2},{"s":"W3","t":12,"p":2888.6},{"s":"W3","t":13,"p":2887},{"s":"W3","t":14,"p":2885.5},{"s":"W3","t":15,"p":2884},{"s":"W3","t":16,"p":2882.5},{"s":"W3","t":17,"p":2881},{"s":"W3","t":18,"p":2879.4},{"s":"W3","t":19,"p":2877.6},{"s":"W3","t":20,"p":2875.9},{"s":"W3","t":21,"p":2874.5},{"s":"W3","t":22,"p":2873.2},{"s":"W3","t":23,"p":2872},{"s":"W3","t":24,"p":2871},{"s":"W3","t":25,"p":2870.2},{"s":"W3","t":26,"p":2869.3},{"s":"W3","t":27,"p":2868.5},{"s":"W3","t":28,"p":2867.7},{"s":"W3","t":29,"p":2866.9},{"s":"W3","t":30,"p":2866.2},{"s":"W3","t":31,"p":2865.4},{"s":"W3","t":32,"p":2864.7},{"s":"W3","t":33,"p":2864},{"s":"W3","t":34,"p":2863.3},{"s":"W3","t":35,"p":2862.6},{"s":"W3","t":36,"p":2861.9},{"s":"W3","t":37,"p":2861.2},{"s":"W3","t":38,"p":2860.5},{"s":"W3","t":39,"p":2859.7},{"s":"W3","t":40,"p":2859},
{"s":"W4","t":0,"p":2900},{"s":"W4","t":1,"p":2900},{"s":"W4","t":2,"p":2899.9},{"s":"W4","t":3,"p":2899.5},{"s":"W4","t":4,"p":2898.9},{"s":"W4","t":5,"p":2898.1},{"s":"W4","t":6,"p":2897.1},{"s":"W4","t":7,"p":2896},{"s":"W4","t":8,"p":2894.6},{"s":"W4","t":9,"p":2893},{"s":"W4","t":10,"p":2891.3},{"s":"W4","t":11,"p":2889.6},{"s":"W4","t":12,"p":2887.9},{"s":"W4","t":13,"p":2886.2},{"s":"W4","t":14,"p":2884.5},{"s":"W4","t":15,"p":2882.8},{"s":"W4","t":16,"p":2881},{"s":"W4","t":17,"p":2879.2},{"s":"W4","t":18,"p":2877.4},{"s":"W4","t":19,"p":2875.6},{"s":"W4","t":20,"p":2873.8},{"s":"W4","t":21,"p":2872},{"s":"W4","t":22,"p":2870.3},{"s":"W4","t":23,"p":2868.6},{"s":"W4","t":24,"p":2867},{"s":"W4","t":25,"p":2865.5},{"s":"W4","t":26,"p":2863.8},{"s":"W4","t":27,"p":2862.1},{"s":"W4","t":28,"p":2860.4},{"s":"W4","t":29,"p":2858.7},{"s":"W4","t":30,"p":2857},{"s":"W4","t":31,"p":2855.5},{"s":"W4","t":32,"p":2854},{"s":"W4","t":33,"p":2852.6},{"s":"W4","t":34,"p":2851.2},{"s":"W4","t":35,"p":2849.7},{"s":"W4","t":36,"p":2848.2},{"s":"W4","t":37,"p":2846.8},{"s":"W4","t":38,"p":2845.4},{"s":"W4","t":39,"p":2844},{"s":"W4","t":40,"p":2842.5}
]
},
"vconcat":[
{"hconcat":[
{"width":238,"height":238,
"layer":[
{"data":{"name":"truek"},"transform":[{"calculate":"datum.x-25","as":"xa"},{"calculate":"datum.x+25","as":"xb"},{"calculate":"datum.y-25","as":"ya"},{"calculate":"datum.y+25","as":"yb"}],
"mark":{"type":"rect","strokeWidth":0.6},
"encoding":{"x":{"field":"xa","type":"quantitative","scale":{"domain":[0,1000],"nice":false,"zero":false},"axis":{"orient":"bottom","values":[200,400,600,800,1000],"title":"X","labelFontSize":12,"titleFontSize":17,"labelPadding":11,"titlePadding":5}},
"x2":{"field":"xb"},
"y":{"field":"ya","type":"quantitative","scale":{"domain":[0,1000],"nice":false,"zero":false},"axis":{"orient":"left","values":[200,400,600,800,1000],"title":"Y","labelFontSize":12,"titleFontSize":17,"labelPadding":9,"titlePadding":9}},
"y2":{"field":"yb"},
"color":{"field":"v","type":"quantitative","scale":{"domain":[1,3],"range":["#00ffff","#ff00ff"],"interpolate":"rgb"},"legend":null},
"stroke":{"field":"v","type":"quantitative","scale":{"domain":[1,3],"range":["#00ffff","#ff00ff"],"interpolate":"rgb"},"legend":null}}},
{"data":{"name":"wells"},"mark":{"type":"circle","size":85,"opacity":1},
"encoding":{"x":{"field":"x","type":"quantitative","scale":{"domain":[0,1000]},"axis":{"orient":"top","values":[200,400,600,800,1000],"labels":false,"title":null}},
"y":{"field":"y","type":"quantitative","scale":{"domain":[0,1000]},"axis":{"orient":"right","values":[200,400,600,800,1000],"labels":false,"title":null}},
"fill":{"field":"well","type":"nominal","scale":{"domain":["W1","W2","W3","W4"],"range":["#22994a","#5c3668","#d6a40c","#c8501c"]},"legend":null}}},
{"data":{"values":[{}]},"mark":{"type":"point","shape":"circle","filled":false,"stroke":"#ffff00","strokeWidth":1.6,"size":75,"opacity":1},
"encoding":{"x":{"datum":505,"type":"quantitative","scale":{"domain":[0,1000]},"axis":null},"y":{"datum":503,"type":"quantitative","scale":{"domain":[0,1000]},"axis":null}}},
{"data":{"values":[{}]},"mark":{"type":"rect","fillOpacity":0,"stroke":"#262626","strokeWidth":1},
"encoding":{"x":{"datum":40,"type":"quantitative","scale":{"domain":[0,1000]},"axis":null},"x2":{"datum":474},"y":{"datum":807,"type":"quantitative","scale":{"domain":[0,1000]},"axis":null},"y2":{"datum":972}}},
{"data":{"values":[{}]},"mark":{"type":"point","shape":"circle","filled":false,"stroke":"#ffff00","strokeWidth":1.6,"size":60,"opacity":1},
"encoding":{"x":{"datum":82,"type":"quantitative","scale":{"domain":[0,1000]},"axis":null},"y":{"datum":937,"type":"quantitative","scale":{"domain":[0,1000]},"axis":null}}},
{"data":{"values":[{}]},"mark":{"type":"circle","size":70,"opacity":1,"fill":"#4e2d5c"},
"encoding":{"x":{"datum":82,"type":"quantitative","scale":{"domain":[0,1000]},"axis":null},"y":{"datum":846,"type":"quantitative","scale":{"domain":[0,1000]},"axis":null}}},
{"data":{"values":[{}]},"mark":{"type":"text","text":"Producing well","font":"Lato","fontSize":10.5,"align":"left","baseline":"middle","color":"#1a1a1a"},
"encoding":{"x":{"datum":126,"type":"quantitative","scale":{"domain":[0,1000]},"axis":null},"y":{"datum":937,"type":"quantitative","scale":{"domain":[0,1000]},"axis":null}}},
{"data":{"values":[{}]},"mark":{"type":"text","text":"Monitoring well","font":"Lato","fontSize":10.5,"align":"left","baseline":"middle","color":"#1a1a1a"},
"encoding":{"x":{"datum":126,"type":"quantitative","scale":{"domain":[0,1000]},"axis":null},"y":{"datum":846,"type":"quantitative","scale":{"domain":[0,1000]},"axis":null}}},
{"data":{"values":[{}]},"mark":{"type":"text","text":"True","font":"Liberation Sans","fontSize":14,"fontWeight":"bold","align":"right","baseline":"alphabetic","color":"#000000"},
"encoding":{"x":{"datum":425,"type":"quantitative","scale":{"domain":[0,1000]},"axis":null},"y":{"datum":1021,"type":"quantitative","scale":{"domain":[0,1000]},"axis":null}}},
{"data":{"values":[{}]},"mark":{"type":"text","text":"k","font":"Liberation Sans","fontSize":14,"fontStyle":"italic","align":"center","baseline":"alphabetic","color":"#000000"},
"encoding":{"x":{"datum":475,"type":"quantitative","scale":{"domain":[0,1000]},"axis":null},"y":{"datum":1021,"type":"quantitative","scale":{"domain":[0,1000]},"axis":null}}},
{"data":{"values":[{}]},"mark":{"type":"text","text":"Model","font":"Liberation Sans","fontSize":14,"fontWeight":"bold","align":"left","baseline":"alphabetic","color":"#000000"},
"encoding":{"x":{"datum":512,"type":"quantitative","scale":{"domain":[0,1000]},"axis":null},"y":{"datum":1021,"type":"quantitative","scale":{"domain":[0,1000]},"axis":null}}},
{"data":{"values":[{}]},"mark":{"type":"text","text":"True Reservoir Model","font":"Lato","fontSize":29,"align":"center","baseline":"alphabetic","color":"#000000"},
"encoding":{"x":{"datum":534,"type":"quantitative","scale":{"domain":[0,1000]},"axis":null},"y":{"datum":1256,"type":"quantitative","scale":{"domain":[0,1000]},"axis":null}}},
{"data":{"values":[{}]},"mark":{"type":"text","text":"a)","font":"Lato","fontSize":18,"align":"left","baseline":"alphabetic","color":"#000000"},
"encoding":{"x":{"datum":-525,"type":"quantitative","scale":{"domain":[0,1000]},"axis":null},"y":{"datum":1382,"type":"quantitative","scale":{"domain":[0,1000]},"axis":null}}}
],
"resolve":{"axis":{"x":"independent","y":"independent"}}},
{"width":245,"height":233,"view":{"stroke":null},
"layer":[
{"data":{"name":"cbar"},"transform":[{"calculate":"datum.v+0.025","as":"vb"}],
"mark":{"type":"rect","strokeWidth":0.6},
"encoding":{"x":{"field":"v","type":"quantitative","scale":{"domain":[1,3.05],"nice":false,"zero":false},"axis":{"values":[1,1.5,2,2.5,3],"format":"~g","title":"Log(mD)","labelFontSize":11,"titleFontSize":11,"domain":false,"tickSize":-4,"labelPadding":9,"titlePadding":8}},
"x2":{"field":"vb"},
"y":{"datum":0,"type":"quantitative","scale":{"domain":[0,14.56],"nice":false,"zero":false},"axis":null},
"y2":{"datum":1},
"color":{"field":"v","type":"quantitative","scale":{"domain":[1,3],"range":["#00ffff","#ff00ff"],"interpolate":"rgb"},"legend":null},
"stroke":{"field":"v","type":"quantitative","scale":{"domain":[1,3],"range":["#00ffff","#ff00ff"],"interpolate":"rgb"},"legend":null}}},
{"data":{"values":[{}]},"mark":{"type":"rect","fillOpacity":0,"stroke":"#444444","strokeWidth":1},
"encoding":{"x":{"datum":1,"type":"quantitative","scale":{"domain":[1,3.05]}},"x2":{"datum":3},"y":{"datum":0,"type":"quantitative","scale":{"domain":[0,14.56]}},"y2":{"datum":1}}}
]},
{"width":238,"height":238,
"layer":[
{"data":{"name":"inv"},"transform":[{"calculate":"datum.x-25","as":"xa"},{"calculate":"datum.x+25","as":"xb"},{"calculate":"datum.y-25","as":"ya"},{"calculate":"datum.y+25","as":"yb"}],
"mark":{"type":"rect","strokeWidth":0.6},
"encoding":{"x":{"field":"xa","type":"quantitative","scale":{"domain":[0,1000],"nice":false,"zero":false},"axis":{"orient":"bottom","values":[200,400,600,800,1000],"title":"X","labelFontSize":12,"titleFontSize":17,"labelPadding":11,"titlePadding":5}},
"x2":{"field":"xb"},
"y":{"field":"ya","type":"quantitative","scale":{"domain":[0,1000],"nice":false,"zero":false},"axis":{"orient":"left","values":[200,400,600,800,1000],"title":"Y","labelFontSize":12,"titleFontSize":17,"labelPadding":9,"titlePadding":9}},
"y2":{"field":"yb"},
"color":{"field":"v","type":"quantitative","scale":{"domain":[1,3],"range":["#00ffff","#ff00ff"],"interpolate":"rgb"},"legend":null},
"stroke":{"field":"v","type":"quantitative","scale":{"domain":[1,3],"range":["#00ffff","#ff00ff"],"interpolate":"rgb"},"legend":null}}},
{"data":{"name":"wells"},"mark":{"type":"circle","size":1,"opacity":0},
"encoding":{"x":{"field":"x","type":"quantitative","scale":{"domain":[0,1000]},"axis":{"orient":"top","values":[200,400,600,800,1000],"labels":false,"title":null}},
"y":{"field":"y","type":"quantitative","scale":{"domain":[0,1000]},"axis":{"orient":"right","values":[200,400,600,800,1000],"labels":false,"title":null}}}},
{"data":{"values":[{}]},"mark":{"type":"text","text":"Inverted Model","font":"Liberation Sans","fontSize":14,"fontWeight":"bold","align":"center","baseline":"alphabetic","color":"#000000"},
"encoding":{"x":{"datum":492,"type":"quantitative","scale":{"domain":[0,1000]},"axis":null},"y":{"datum":1034,"type":"quantitative","scale":{"domain":[0,1000]},"axis":null}}},
{"data":{"values":[{}]},"mark":{"type":"text","text":"Inverted Reservoir Model","font":"Lato","fontSize":29,"align":"center","baseline":"alphabetic","color":"#000000"},
"encoding":{"x":{"datum":563,"type":"quantitative","scale":{"domain":[0,1000]},"axis":null},"y":{"datum":1265,"type":"quantitative","scale":{"domain":[0,1000]},"axis":null}}},
{"data":{"values":[{}]},"mark":{"type":"text","text":"b)","font":"Lato","fontSize":18,"align":"left","baseline":"alphabetic","color":"#000000"},
"encoding":{"x":{"datum":-547,"type":"quantitative","scale":{"domain":[0,1000]},"axis":null},"y":{"datum":1382,"type":"quantitative","scale":{"domain":[0,1000]},"axis":null}}}
],
"resolve":{"axis":{"x":"independent","y":"independent"}}}
],"spacing":52,"bounds":"flush"},
{"hconcat":[
{"width":156,"height":1,"view":{"stroke":null},"data":{"values":[]},"mark":"rect","encoding":{}},
{"width":302,"height":214,
"layer":[
{"data":{"name":"press"},"mark":{"type":"circle","size":22,"opacity":1},
"encoding":{"x":{"field":"t","type":"quantitative","scale":{"domain":[0,40],"nice":false,"zero":false},"axis":{"orient":"bottom","values":[0,10,20,30,40],"grid":true,"gridColor":"#dedede","title":"Time (days)","labelFontSize":15,"titleFontSize":17,"titlePadding":5,"zindex":0,"tickSize":-5,"labelPadding":14}},
"y":{"field":"p","type":"quantitative","scale":{"domain":[2820,2900],"nice":false,"zero":false},"axis":{"orient":"left","values":[2820,2840,2860,2880,2900],"grid":true,"gridColor":"#dedede","title":"Pressure(Psi)","labelFontSize":15,"titleFontSize":17,"titlePadding":10,"zindex":0,"tickSize":-5,"labelPadding":3}},
"color":{"field":"s","type":"nominal","scale":{"domain":["W1","W2","W3","W4"],"range":["#edb120","#2f86d0","#77ac30","#c0142f"]},"legend":null}}},
{"data":{"name":"press"},"mark":{"type":"line","color":"#ff1a1a","strokeWidth":1.4},
"encoding":{"x":{"field":"t","type":"quantitative","scale":{"domain":[0,40]},"axis":{"orient":"top","values":[0,10,20,30,40],"labels":false,"title":null,"tickSize":-5}},
"y":{"field":"p","type":"quantitative","scale":{"domain":[2820,2900]},"axis":{"orient":"right","values":[2820,2840,2860,2880,2900],"labels":false,"title":null,"tickSize":-5}},
"detail":{"field":"s","type":"nominal"}}},
{"data":{"values":[{}]},"mark":{"type":"rule","color":"#ff1a1a","strokeWidth":1.4},
"encoding":{"x":{"datum":1.86,"type":"quantitative","scale":{"domain":[0,40]},"axis":null},"x2":{"datum":4.07},"y":{"datum":2835.1,"type":"quantitative","scale":{"domain":[2820,2900]},"axis":null},"y2":{"datum":2831.3}}},
{"data":{"values":[{}]},"mark":{"type":"circle","size":22,"opacity":1,"fill":"#edb120"},
"encoding":{"x":{"datum":3.1,"type":"quantitative","scale":{"domain":[0,40]},"axis":null},"y":{"datum":2825.5,"type":"quantitative","scale":{"domain":[2820,2900]},"axis":null}}},
{"data":{"values":[{}]},"mark":{"type":"text","text":"Model","fontSize":11,"align":"left","baseline":"middle","color":"#1a1a1a"},
"encoding":{"x":{"datum":4.7,"type":"quantitative","scale":{"domain":[0,40]},"axis":null},"y":{"datum":2832.8,"type":"quantitative","scale":{"domain":[2820,2900]},"axis":null}}},
{"data":{"values":[{}]},"mark":{"type":"text","text":"Data","fontSize":11,"align":"left","baseline":"middle","color":"#1a1a1a"},
"encoding":{"x":{"datum":4.7,"type":"quantitative","scale":{"domain":[0,40]},"axis":null},"y":{"datum":2825.5,"type":"quantitative","scale":{"domain":[2820,2900]},"axis":null}}},
{"data":{"values":[{}]},"mark":{"type":"text","text":"Data vs. Model","font":"Lato","fontSize":29,"align":"center","baseline":"alphabetic","color":"#000000"},
"encoding":{"x":{"datum":18.9,"type":"quantitative","scale":{"domain":[0,40]},"axis":null},"y":{"datum":2914.6,"type":"quantitative","scale":{"domain":[2820,2900]},"axis":null}}},
{"data":{"values":[{}]},"mark":{"type":"text","text":"RMSE = 3e-4","font":"Liberation Sans","fontSize":14,"fontWeight":"bold","align":"center","baseline":"alphabetic","color":"#000000"},
"encoding":{"x":{"datum":17.95,"type":"quantitative","scale":{"domain":[0,40]},"axis":null},"y":{"datum":2903.4,"type":"quantitative","scale":{"domain":[2820,2900]},"axis":null}}},
{"data":{"values":[{}]},"mark":{"type":"text","text":"c)","font":"Lato","fontSize":18,"align":"left","baseline":"alphabetic","color":"#000000"},
"encoding":{"x":{"datum":-15.2,"type":"quantitative","scale":{"domain":[0,40]},"axis":null},"y":{"datum":2922.8,"type":"quantitative","scale":{"domain":[2820,2900]},"axis":null}}}
],
"resolve":{"axis":{"x":"independent","y":"independent"}}}
],"spacing":0}
],
"spacing":61
}
